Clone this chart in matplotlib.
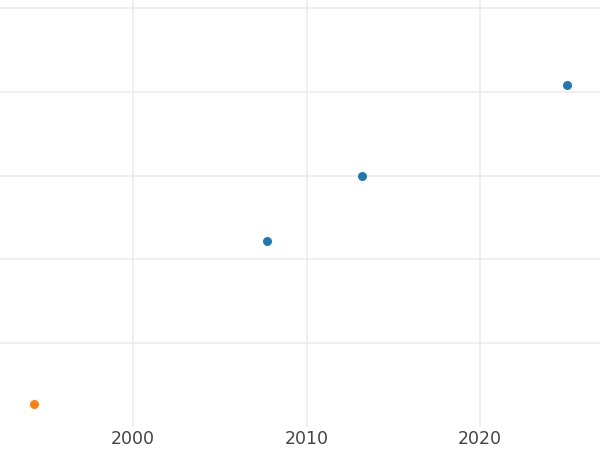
import matplotlib
matplotlib.use('Agg')
import matplotlib.pyplot as plt

# data
blue_year = [2007.7, 2013.2, 2025.0]
blue_val = [2.22, 3.0, 4.08]
orange_year = [1994.3]
orange_val = [0.275]
xticks = [2000, 2010, 2020]
yticks = [1, 2, 3, 4, 5]

fig = plt.figure(figsize=(6, 4.5), dpi=100)
ax = fig.add_axes([0, 1 - 427 / 450, 1, 427 / 450])

ax.scatter(blue_year, blue_val, s=42, color='#1f77b4', zorder=3, linewidths=0)
ax.scatter(orange_year, orange_val, s=42, color='#ff7f0e', zorder=3, linewidths=0)

ax.set_xlim(1992.33, 2026.92)
ax.set_ylim(0, 5.0985)
ax.set_xticks(xticks)
ax.set_xticklabels([str(t) for t in xticks], fontsize=12.5, color='#444444')
ax.set_yticks(yticks)
ax.set_yticklabels([])
ax.tick_params(axis='both', length=0, pad=2.5)
ax.grid(True, color='#ececec', linewidth=1.2)
ax.set_axisbelow(True)
for s in ax.spines.values():
    s.set_visible(False)

fig.savefig('out.png', dpi=100)
